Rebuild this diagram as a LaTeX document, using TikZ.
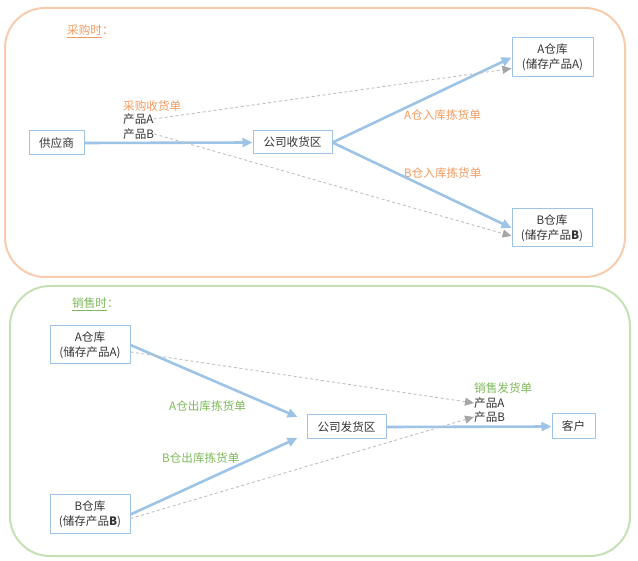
\documentclass[tikz,border=0pt]{standalone}
\usepackage{fontspec}
\setmainfont{Noto Sans CJK SC}
\usetikzlibrary{arrows.meta,calc}
\definecolor{bl}{HTML}{9DC3E6}
\definecolor{frO}{HTML}{F8CBAD}
\definecolor{frG}{HTML}{C5E0B4}
\definecolor{txO}{HTML}{F29A5E}
\definecolor{txG}{HTML}{7DB85A}
\definecolor{gr}{HTML}{BFBFBF}
\definecolor{grh}{HTML}{A6A6A6}
\definecolor{dk}{HTML}{333333}
\tikzset{
  box/.style={draw=bl, line width=1pt, inner sep=0pt, text=dk, align=center, font=\fontsize{11.6}{15}\selectfont},
  flow/.style={draw=bl, line width=2.6pt, -{Triangle[length=10pt,width=9pt]}},
  ref/.style={draw=gr, line width=0.9pt, dash pattern=on 3pt off 2.5pt, -{Triangle[length=9pt,width=8pt,fill=grh,color=grh]}},
  lbl/.style={inner sep=0pt, anchor=west, font=\fontsize{11.6}{13}\selectfont},
  frame/.style={line width=2pt, rounded corners=40pt}
}
\begin{document}
\begin{tikzpicture}[x=1pt,y=-1pt]
\useasboundingbox (0,0) rectangle (638,561);
% frames
\draw[frame, draw=frO] (5,8) rectangle (625,277);
\draw[frame, draw=frG] (10,286) rectangle (630,556);
% titles
\node[lbl, text=txO] (t1) at (67,31) {\underline{采购时}：};
\node[lbl, text=txG] (t2) at (72,304) {\underline{销售时}：};
% top nodes
\node[box, minimum width=55pt, minimum height=24pt] (sup) at (56.5,143) {供应商};
\node[box, minimum width=79pt, minimum height=23pt] (rcv) at (292.5,142.5) {公司收货区};
\node[box, minimum width=81pt, minimum height=39pt] (wa) at (552.5,57.5) {A仓库\\(储存产品A)};
\node[box, minimum width=80pt, minimum height=38pt] (wb) at (552,228) {B仓库\\(储存产品\textbf{B})};
% top labels
\node[lbl, text=txO] (po) at (123,106) {采购收货单};
\node[lbl, text=dk] (pa) at (123,119) {产品A};
\node[lbl, text=dk] (pb) at (123,134) {产品B};
\node[lbl, text=txO] (la) at (404,115) {A仓入库拣货单};
\node[lbl, text=txO] (lb) at (404,173) {B仓入库拣货单};
% top connectors
\draw[flow] (sup.east) -- (rcv.west);
\draw[flow] (rcv.east) -- (wa.west);
\draw[flow] (rcv.east) -- (wb.west);
\draw[ref] (pa.east) -- ([yshift=-11pt]wa.west);
\draw[ref] (pb.east) -- ([yshift=-8pt]wb.west);
% bottom nodes
\node[box, minimum width=80pt, minimum height=38pt] (oa) at (90,345) {A仓库\\(储存产品A)};
\node[box, minimum width=80pt, minimum height=39pt] (ob) at (90,514.5) {B仓库\\(储存产品\textbf{B})};
\node[box, minimum width=79pt, minimum height=24pt] (shp) at (346.5,427) {公司发货区};
\node[box, minimum width=43pt, minimum height=25pt] (cus) at (573.5,426.5) {客户};
% bottom labels
\node[lbl, text=txG] (so) at (474,388) {销售发货单};
\node[lbl, text=dk] (sa) at (474,403) {产品A};
\node[lbl, text=dk] (sb) at (474,417) {产品B};
\node[lbl, text=txG] (oal) at (169,406) {A仓出库拣货单};
\node[lbl, text=txG] (obl) at (162,458) {B仓出库拣货单};
% bottom connectors
\coordinate (inA) at ($(shp.west)+(-9,-10)$);
\coordinate (inB) at ($(shp.west)+(-9,11)$);
\draw[flow] (oa.east) -- (inA);
\draw[flow] (ob.east) -- (inB);
\draw[flow] (shp.east) -- (cus.west);
\draw[ref] ([yshift=-7pt]oa.east) -- (sa.west);
\draw[ref] ([yshift=-4pt]ob.east) -- (sb.west);
\end{tikzpicture}
\end{document}
